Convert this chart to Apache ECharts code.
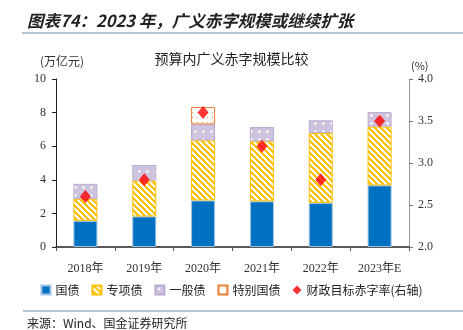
<!DOCTYPE html>
<html><head><meta charset="utf-8">
<script src="https://cdn.jsdelivr.net/npm/echarts@6/dist/echarts.min.js"></script>
<style>html,body{margin:0;padding:0;background:#fff}#c{width:463px;height:330px}</style>
</head><body><div id="c"></div>
<script>
var categories = ['2018年','2019年','2020年','2021年','2022年','2023年E'];
var guozhai = [1.55, 1.82, 2.77, 2.72, 2.62, 3.67];
var zhuanxiang = [1.32, 2.13, 3.58, 3.57, 4.17, 3.50];
var yiban = [0.89, 0.93, 0.95, 0.85, 0.75, 0.86];
var tebie = [0, 0, 1.03, 0, 0, 0];
var deficitRate = [2.6, 2.8, 3.6, 3.2, 2.8, 3.5];
var leftTicks = [0, 10, 2];
var rightTicks = [2.0, 4.0, 0.5];

function tile(n, draw){var c=document.createElement('canvas');c.width=n;c.height=n;var g=c.getContext('2d');draw(g,n);return c;}
var stripe = tile(6, function(g,n){g.fillStyle='#fff';g.fillRect(0,0,n,n);g.fillStyle='#FFC000';
  for(var x=0;x<n;x++)for(var y=0;y<n;y++){if((((x-y)%n)+n)%n<3)g.fillRect(x,y,1,1);}});
var plus = tile(8, function(g,n){g.fillStyle='#CEC4DF';g.fillRect(0,0,n,n);g.fillStyle='#fff';
  g.fillRect(3,2,1,3);g.fillRect(2,3,3,1);});
var dots = tile(5, function(g,n){g.fillStyle='#fff';g.fillRect(0,0,n,n);g.fillStyle='#F0A070';
  g.fillRect(2,2,1,1);});

var font = '"Liberation Serif","Noto Sans CJK SC",serif';
var chart = echarts.init(document.getElementById('c'), null, {renderer:'canvas'});
chart.setOption({
  animation:false,
  textStyle:{fontFamily:font},
  grid:{left:56,right:54,top:79,bottom:83},
  graphic:[
    {type:'text',left:27,top:12,style:{text:'图表74：2023 年，广义赤字规模或继续扩张',font:'italic bold 16.5px "Noto Sans CJK SC",sans-serif',fill:'#222'}},
    {type:'rect',shape:{x:22,y:32,width:441,height:2},style:{fill:'#B2C5D0'}},
    {type:'text',left:'center',top:52,style:{text:'预算内广义赤字规模比较',font:'14px "Noto Sans CJK SC",serif',fill:'#222'},x:12},
    {type:'text',left:40,top:55,style:{text:'(万亿元)',font:'12px "Noto Sans CJK SC",serif',fill:'#333'}},
    {type:'text',left:411,top:60,style:{text:'(%)',font:'11px "Noto Sans CJK SC",serif',fill:'#333'}},
    {type:'rect',shape:{x:23,y:310,width:440,height:2},style:{fill:'#B2C5D0'}},
    {type:'text',left:27,top:317,style:{text:'来源：Wind、国金证券研究所',font:'12px "Noto Sans CJK SC",serif',fill:'#222'}}
  ],
  legend:{bottom:29,left:'center',itemWidth:9,itemHeight:9,itemGap:12,
    textStyle:{fontSize:12,color:'#222',fontFamily:'"Noto Sans CJK SC",serif'},
    data:[{name:'国债',icon:'rect'},{name:'专项债',icon:'rect'},{name:'一般债',icon:'rect'},{name:'特别国债',icon:'rect'},{name:'财政目标赤字率(右轴)',icon:'diamond'}]},
  xAxis:{type:'category',data:categories,
    axisLine:{lineStyle:{color:'#222',width:1.5}},
    axisTick:{show:true,length:4,lineStyle:{color:'#555'}},
    axisLabel:{color:'#333',fontSize:12,margin:16}},
  yAxis:[
    {type:'value',min:leftTicks[0],max:leftTicks[1],interval:leftTicks[2],
      axisLine:{show:true,lineStyle:{color:'#222'}},axisTick:{show:true,length:4,lineStyle:{color:'#222'}},
      splitLine:{show:false},axisLabel:{color:'#333',fontSize:12,margin:10}},
    {type:'value',min:rightTicks[0],max:rightTicks[1],interval:rightTicks[2],position:'right',
      axisLine:{show:true,lineStyle:{color:'#999'}},axisTick:{show:true,length:4,lineStyle:{color:'#777'}},
      splitLine:{show:false},axisLabel:{color:'#333',fontSize:12,margin:9,formatter:function(v){return v.toFixed(1);}}}
  ],
  series:[
    {name:'国债',type:'bar',stack:'a',barWidth:24,data:guozhai,itemStyle:{color:'#0070C0',borderColor:'#9DC3E6',borderWidth:1}},
    {name:'专项债',type:'bar',stack:'a',barWidth:24,data:zhuanxiang,itemStyle:{color:{image:stripe,repeat:'repeat'},borderColor:'#FFC000',borderWidth:1}},
    {name:'一般债',type:'bar',stack:'a',barWidth:24,data:yiban,itemStyle:{color:{image:plus,repeat:'repeat'},borderColor:'#B8ACD0',borderWidth:1}},
    {name:'特别国债',type:'bar',stack:'a',barWidth:24,data:tebie.map(function(v){return v===0?null:v;}),itemStyle:{color:{image:dots,repeat:'repeat'},borderColor:'#ED7D31',borderWidth:1}},
    {name:'财政目标赤字率(右轴)',type:'scatter',yAxisIndex:1,symbol:'diamond',symbolSize:[11,13],data:deficitRate,itemStyle:{color:'#FF0000'},z:5}
  ]
});
</script></body></html>
